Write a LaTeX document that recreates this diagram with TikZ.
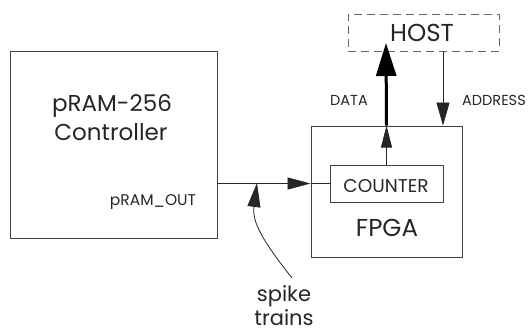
\documentclass[tikz,border=0pt]{standalone}
\usepackage{fontspec}
\setmainfont{Poppins}
\usetikzlibrary{arrows.meta}
\begin{document}
\begin{tikzpicture}[x=1pt,y=-1pt,
  box/.style={draw=black!75,line width=0.9pt,inner sep=0pt},
  lbl/.style={inner sep=0pt,anchor=base,text=black!85},
  big/.style={lbl,font=\fontsize{23}{23}\selectfont},
  bigger/.style={lbl,font=\fontsize{24.5}{24.5}\selectfont},
  spk/.style={lbl,font=\fontsize{21}{21}\selectfont},
  mid/.style={lbl,font=\fontsize{18.5}{18.5}\selectfont},
  small/.style={lbl,font=\fontsize{14.5}{14.5}\selectfont},
  thin/.style={line width=0.8pt,draw=black!85},
  tipa/.style={-{Triangle[length=23pt,width=12pt]}}
]
\useasboundingbox (0,0) rectangle (529,333);
% boxes
\node[box,minimum width=207pt,minimum height=187pt] (ctrl) at (113.5,144.5) {};
\node[box,minimum width=151pt,minimum height=131pt] (fpga) at (386.5,191.5) {};
\node[box,minimum width=113pt,minimum height=37pt] (cnt) at (386.5,183.5) {};
\node[box,dash pattern=on 8pt off 5pt,draw=black!60,minimum width=151pt,minimum height=37pt] (host) at (423.5,32.5) {};
% labels
\node[big] (t1) at (112,111) {pRAM-256};
\node[big] (t2) at (111,140) {Controller};
\node[small,font=\fontsize{15.5}{15.5}\selectfont] (t3) at (153,205) {pRAM\_OUT};
\node[mid] (t4) at (386,192) {COUNTER};
\node[bigger] (t5) at (387,236) {FPGA};
\node[bigger] (t6) at (422,41) {HOST};
\node[small] (t7) at (349,105) {DATA};
\node[small,anchor=base west] (t8) at (462,105) {ADDRESS};
\node[spk] (t9) at (284,301) {spike};
\node[spk] (t10) at (284,325) {trains};
% coordinates
\coordinate (dtop) at (386,43);
\coordinate (stail) at (292,278);
\coordinate (stip) at (257,183);
% connectors
\draw[thin,tipa] (ctrl.east|-cnt.west) -- (fpga.west|-cnt.west);
\draw[thin] (fpga.west|-cnt.west) -- (cnt.west);
\draw[thin,-{Triangle[length=22pt,width=11pt]}] (cnt.north) -- (cnt.north|-fpga.north);
\draw[line width=3pt,-{Triangle[length=33pt,width=20pt]}] (cnt.north|-fpga.north) -- (dtop);
\draw[thin,-{Triangle[length=23pt,width=13pt]}] (host.south-|443,0) -- (fpga.north-|443,0);
\draw[thin,-{Triangle[length=24pt,width=13pt]}] (stail) .. controls (262,240) and (252,222) .. (stip);
\end{tikzpicture}
\end{document}
